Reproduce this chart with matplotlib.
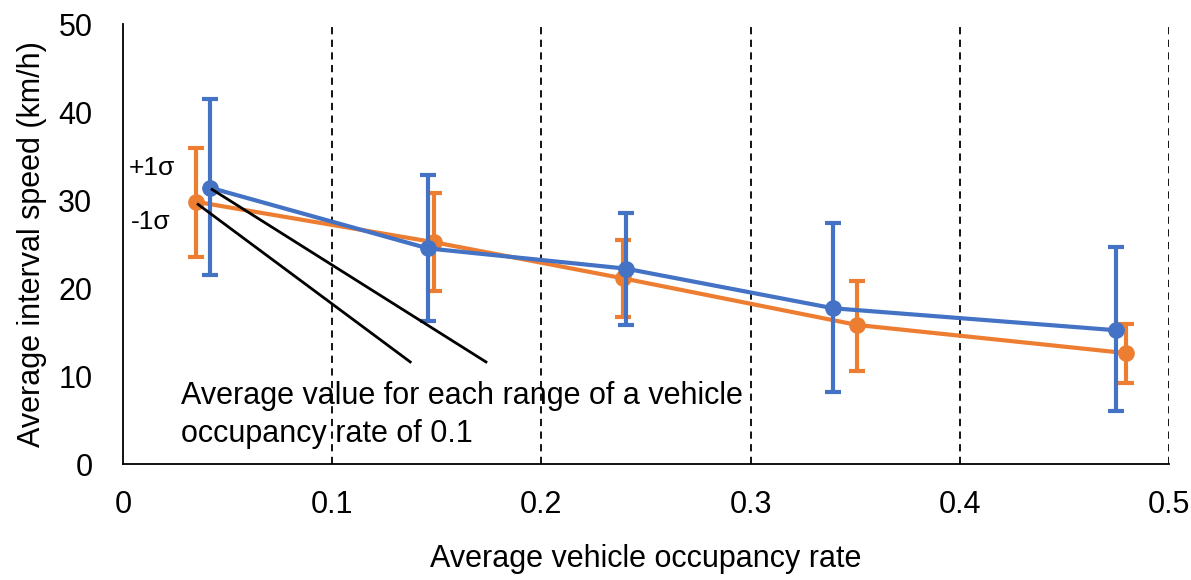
import matplotlib
matplotlib.use("Agg")
import matplotlib.pyplot as plt

# data
blue_x = [0.0416, 0.1458, 0.2404, 0.3394, 0.4747]
blue_y = [31.4, 24.5, 22.2, 17.7, 15.2]
blue_hi = [41.5, 32.8, 28.5, 27.4, 24.7]
blue_lo = [21.5, 16.3, 15.8, 8.2, 6.0]

orange_x = [0.0349, 0.1487, 0.2390, 0.3509, 0.4795]
orange_y = [29.8, 25.2, 21.1, 15.8, 12.6]
orange_hi = [35.9, 30.8, 25.5, 20.8, 15.9]
orange_lo = [23.5, 19.7, 16.7, 10.6, 9.2]

range_edges = [0.1, 0.2, 0.3, 0.4, 0.5]
xticks = [0, 0.1, 0.2, 0.3, 0.4, 0.5]
xticklabels = ["0", "0.1", "0.2", "0.3", "0.4", "0.5"]
yticks = [0, 10, 20, 30, 40, 50]

plt.rcParams["font.family"] = ["Liberation Sans", "DejaVu Sans"]

BLUE = "#4472C4"
ORANGE = "#ED7D31"

fig = plt.figure(figsize=(11.91, 5.80), dpi=100)
ax = fig.add_axes([123/1191, 1 - 464/580, (1169-123)/1191, (464-24)/580])

for xe in range_edges:
    ax.axvline(xe, color="black", linestyle=(0, (4, 3)), linewidth=1.3, zorder=1)

def err(y, hi, lo):
    return [[a - b for a, b in zip(y, lo)], [b - a for a, b in zip(y, hi)]]

ax.errorbar(orange_x, orange_y, yerr=err(orange_y, orange_hi, orange_lo), color=ORANGE,
            marker="o", markersize=11, linewidth=3, elinewidth=3, capsize=6, capthick=3, zorder=3)
ax.errorbar(blue_x, blue_y, yerr=err(blue_y, blue_hi, blue_lo), color=BLUE,
            marker="o", markersize=11, linewidth=3, elinewidth=3, capsize=6, capthick=3, zorder=4)

# pointer lines from the first points to the note
ax.plot([blue_x[0] + 0.001, 0.1735], [blue_y[0] - 0.2, 11.6], color="black", linewidth=2, zorder=5)
ax.plot([orange_x[0] + 0.001, 0.1373], [orange_y[0] - 0.3, 11.6], color="black", linewidth=2, zorder=5)

ax.text(0.025, 33.6, "+1σ", fontsize=19, ha="right", va="center")
ax.text(0.0225, 27.5, "-1σ", fontsize=19, ha="right", va="center")
ax.text(0.0275, 9.4, "Average value for each range of a vehicle\noccupancy rate of 0.1",
        fontsize=22, ha="left", va="top", linespacing=1.35)

ax.set_xlim(0, 0.5)
ax.set_ylim(0, 50)
ax.set_xticks(xticks)
ax.set_xticklabels(xticklabels)
ax.set_yticks(yticks)
ax.tick_params(length=0, labelsize=22)
ax.tick_params(axis="x", pad=19)
ax.tick_params(axis="y", pad=22)
ax.spines["top"].set_visible(False)
ax.spines["right"].set_visible(False)
ax.spines["left"].set_linewidth(1.3)
ax.spines["bottom"].set_linewidth(1.3)
ax.set_xlabel("Average vehicle occupancy rate", fontsize=22, labelpad=17)
ax.set_ylabel("Average interval speed (km/h)", fontsize=22, labelpad=8)

fig.savefig("out.png", dpi=100)
